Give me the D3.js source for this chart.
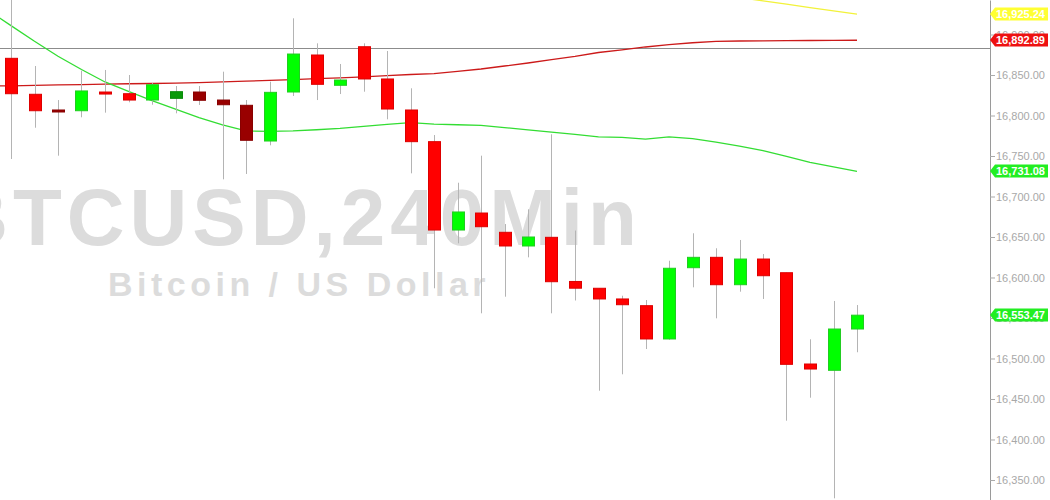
<!DOCTYPE html>
<html>
<head>
<meta charset="utf-8">
<script src="https://cdn.jsdelivr.net/npm/d3@7/dist/d3.min.js"></script>
<style>
  body { margin: 0; background: #fff; }
  svg { display: block; font-family: "Liberation Sans", Arial, sans-serif; }
</style>
</head>
<body>
<svg id="chart" width="1050" height="500"></svg>
<script>
// BTCUSD 240 minute candles
var opens = [16870.6, 16826.2, 16806.8, 16805.9, 16829, 16826.9, 16819.1, 16821.2, 16829, 16819.1,
  16812.6, 16768.5, 16829, 16874.7, 16837.3, 16884.9, 16845.1, 16806.8, 16767.7, 16658.6,
  16679.6, 16655.8, 16638.9, 16649.6, 16595.1, 16586.7, 16573.5, 16565.2, 16524.1, 16612.1,
  16624.9, 16591.1, 16622.8, 16605.9, 16493.2, 16485.4, 16536.4];
var highs = [16946, 16861.1, 16819.1, 16855.3, 16856.2, 16850, 16840, 16836.4, 16836.4, 16854.1,
  16819.1, 16841.7, 16920, 16889.1, 16863.6, 16889.1, 16879.6, 16833.6, 16775.9, 16717,
  16750.4, 16666, 16684.2, 16776.8, 16658, 16587, 16577.5, 16572.2, 16620.7, 16654.6,
  16636.1, 16646.3, 16629, 16606, 16523.7, 16571, 16566];
var lows = [16746.3, 16784.9, 16750.4, 16797.8, 16803.5, 16816.3, 16813.3, 16802.7, 16813, 16721.2,
  16727.8, 16763.2, 16824.1, 16819.1, 16826.5, 16829.4, 16795.3, 16728.6, 16586.7, 16642.2,
  16555.8, 16576.3, 16624.9, 16555.8, 16571.6, 16460.2, 16480.5, 16511.7, 16523.2, 16587.9,
  16549.6, 16582.5, 16573.5, 16423.2, 16451.6, 16327.4, 16507.7];
var closes = [16826.9, 16805.9, 16805.5, 16830.3, 16826.5, 16819.1, 16838, 16829.4, 16818.8, 16813.3,
  16769.4, 16828.6, 16875.9, 16838.5, 16843.8, 16845.1, 16808, 16767.7, 16658.6, 16680.9,
  16662.7, 16638.9, 16650, 16594.8, 16586.8, 16573.5, 16566.4, 16524.1, 16611.4, 16624.9,
  16591.1, 16622.8, 16602.2, 16492.8, 16487, 16536.4, 16553.47];
// 1 = candle drawn in the darker shade
var dimmed = [0, 0, 1, 0, 0, 0, 0, 1, 1, 1, 1, 0, 0, 0, 0, 0, 0, 0, 0, 0,
  0, 0, 0, 0, 0, 0, 0, 0, 0, 0, 0, 0, 0, 0, 0, 0, 0];

// moving averages, first value belongs to the bar just left of the screen
var maGreen = [16930.3, 16911, 16891.6, 16873.2, 16856.8, 16841.4, 16829.8, 16818.3, 16807.8, 16797.4,
  16788.3, 16781, 16780.3, 16780.9, 16782.4, 16784.1, 16786.6, 16789, 16791.1, 16789.4,
  16788.6, 16787.9, 16785.1, 16782.2, 16779.4, 16776.6, 16773.6, 16772.9, 16770.8, 16773.7,
  16771.4, 16767, 16762.1, 16756.7, 16749.5, 16742.2, 16736.7, 16731.08];
var maRed = [16836.4, 16836.7, 16837.2, 16837.7, 16838.2, 16838.7, 16839.2, 16839.5, 16840, 16840.5,
  16841.4, 16842.4, 16843.3, 16844.2, 16845.6, 16846.5, 16847.8, 16849.2, 16850.6, 16851.6,
  16854.6, 16857.4, 16861.1, 16864.8, 16869.1, 16872.9, 16877.8, 16881.1, 16884.6, 16887.4,
  16889.8, 16891.6, 16892, 16892.1, 16892.4, 16892.6, 16892.8, 16892.89];
var maYellow = [null, null, null, null, null, null, null, null, null, null,
  null, null, null, null, null, null, null, null, null, null,
  null, null, null, null, null, null, null, null, null, 16957.9,
  16953.8, 16949.7, 16945.6, 16941.5, 16937.4, 16933.3, 16929.3, 16925.24];

var yTicks = [16350, 16400, 16450, 16500, 16550, 16600, 16650, 16700, 16750, 16800, 16850, 16900];
var refLevel = 16883;
var symbol = "BTCUSD,240Min";
var description = "Bitcoin / US Dollar";

var width = 1050, height = 500, axisX = 990;
var svg = d3.select("#chart");

var x = d3.scaleLinear().domain([0, 36]).range([11, 857]);
var y = d3.scaleLinear().domain([16325.3, 16942.6]).range([500, 0]);
var fmt = d3.format(",.2f");

svg.append("defs").append("clipPath").attr("id", "plotClip")
  .append("rect").attr("x", 0).attr("y", 0).attr("width", axisX).attr("height", height);

// watermark
svg.append("text")
  .attr("x", 296).attr("y", 245)
  .attr("text-anchor", "middle")
  .style("font-size", "80px").style("font-weight", "bold")
  .style("letter-spacing", "5px")
  .attr("fill", "#dcdcdc")
  .text(symbol);
svg.append("text")
  .attr("x", 299).attr("y", 296)
  .attr("text-anchor", "middle")
  .style("font-size", "34px").style("font-weight", "bold")
  .style("letter-spacing", "4.5px")
  .attr("fill", "#dcdcdc")
  .text(description);

var plot = svg.append("g").attr("clip-path", "url(#plotClip)");

// horizontal level
plot.append("line")
  .attr("x1", 0).attr("x2", axisX)
  .attr("y1", Math.round(y(refLevel)) + 0.5).attr("y2", Math.round(y(refLevel)) + 0.5)
  .attr("stroke", "#8c8c8c").attr("stroke-width", 1);

// moving averages
function maLine(values, color) {
  var line = d3.line()
    .defined(function (d) { return d != null; })
    .x(function (d, i) { return x(i - 1); })
    .y(function (d) { return y(d); });
  plot.append("path")
    .datum(values)
    .attr("fill", "none")
    .attr("stroke", color)
    .attr("stroke-width", 1.3)
    .attr("d", line);
}
maLine(maRed, "#cc1a1a");
maLine(maGreen, "#33dd33");
maLine(maYellow, "#f2f23a");

// candles
var candles = opens.map(function (o, i) {
  return { i: i, o: o, h: highs[i], l: lows[i], c: closes[i], dim: dimmed[i] };
});

var bw = 12;
var g = plot.selectAll("g.candle").data(candles).enter().append("g").attr("class", "candle");

g.append("line")
  .attr("x1", function (d) { return Math.round(x(d.i)) + 0.5; })
  .attr("x2", function (d) { return Math.round(x(d.i)) + 0.5; })
  .attr("y1", function (d) { return y(d.h); })
  .attr("y2", function (d) { return y(d.l); })
  .attr("stroke", "#b4b4b4").attr("stroke-width", 1);

g.append("rect")
  .attr("x", function (d) { return Math.round(x(d.i)) - bw / 2 + 0.5; })
  .attr("y", function (d) { return y(Math.max(d.o, d.c)); })
  .attr("width", bw)
  .attr("height", function (d) { return Math.max(2, Math.abs(y(d.o) - y(d.c))); })
  .attr("fill", function (d) {
    var up = d.c >= d.o;
    if (d.dim) return up ? "#0a9a0a" : "#990000";
    return up ? "#00ff00" : "#ff0000";
  })
  .attr("stroke", function (d) {
    var up = d.c >= d.o;
    if (d.dim) return up ? "#0a8a0a" : "#880000";
    return up ? "#22cc22" : "#dd0000";
  })
  .attr("stroke-width", 1);

// price axis
var axis = svg.append("g")
  .attr("transform", "translate(" + axisX + ",0)")
  .call(d3.axisRight(y).tickValues(yTicks).tickSize(5).tickSizeOuter(0).tickFormat(fmt));
axis.select(".domain").attr("stroke", "#9a9a9a");
axis.selectAll(".tick line").attr("stroke", "#aaaaaa");
axis.selectAll(".tick text")
  .attr("x", 6)
  .attr("fill", "#a8a8a8")
  .style("font-size", "11px")
  .style("font-family", "'Liberation Sans', Arial, sans-serif");

// last value badges
var badges = [
  { v: maYellow[maYellow.length - 1], color: "#ffff33" },
  { v: maRed[maRed.length - 1], color: "#ee1111" },
  { v: maGreen[maGreen.length - 1], color: "#22ee22" },
  { v: closes[closes.length - 1], color: "#22ee22" }
];
var bg = svg.selectAll("g.badge").data(badges).enter().append("g").attr("class", "badge")
  .attr("transform", function (d) { return "translate(" + axisX + "," + Math.round(y(d.v)) + ")"; });
bg.append("path")
  .attr("d", "M0,0 L5,-6.5 L58,-6.5 L58,6.5 L5,6.5 Z")
  .attr("fill", function (d) { return d.color; });
bg.append("text")
  .attr("x", 6).attr("y", 4)
  .attr("fill", "#fff")
  .style("font-size", "11px").style("font-weight", "bold")
  .text(function (d) { return fmt(d.v); });
</script>
</body>
</html>
